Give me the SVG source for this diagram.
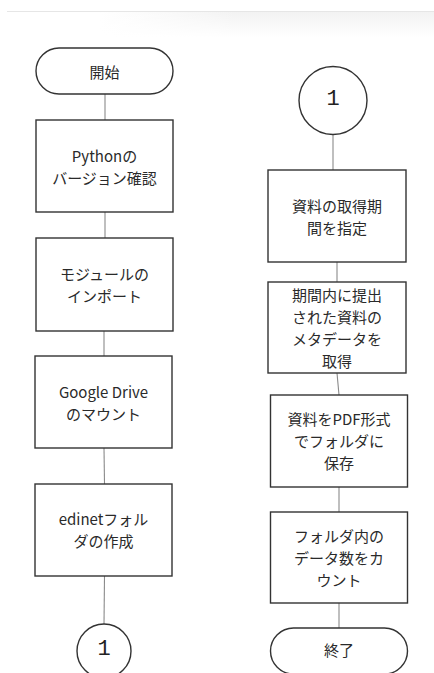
<svg xmlns="http://www.w3.org/2000/svg" width="434" height="673" viewBox="0 0 434 673">
<style>
.box{fill:#fff;stroke:#333;stroke-width:1.4}
.conn{stroke:#8a8a8a;stroke-width:1.1;fill:none}
.t{font-family:"Noto Sans CJK JP","Noto Sans",sans-serif;font-size:15px;fill:#2a2a2a;text-anchor:middle;dominant-baseline:central}
.n{font-family:"Liberation Mono","DejaVu Sans Mono",monospace;font-size:22px;fill:#222;text-anchor:middle;dominant-baseline:central}
</style>
<defs>
<linearGradient id="sh" x1="0" y1="0" x2="1" y2="0">
<stop offset="0" stop-color="#f4f4f4" stop-opacity="0"/>
<stop offset="0.4" stop-color="#f2f2f2" stop-opacity="1"/>
<stop offset="1" stop-color="#f2f2f2" stop-opacity="1"/>
</linearGradient>
<linearGradient id="shv" x1="0" y1="0" x2="0" y2="1">
<stop offset="0" stop-color="#fff" stop-opacity="0"/>
<stop offset="1" stop-color="#fff" stop-opacity="1"/>
</linearGradient>
</defs>
<rect width="434" height="673" fill="#fff"/>
<rect x="100" y="11" width="334" height="26" fill="url(#sh)"/>
<rect x="100" y="11" width="334" height="26" fill="url(#shv)"/>
<line x1="7" y1="11.5" x2="434" y2="11.5" stroke="#e6e6e6" stroke-width="1"/>
<g id="connectors">
<line class="conn" x1="105" y1="94" x2="105" y2="120"/>
<line class="conn" x1="105" y1="212" x2="105" y2="238"/>
<line class="conn" x1="104" y1="331" x2="104" y2="356"/>
<line class="conn" x1="104" y1="448" x2="104.5" y2="484"/>
<line class="conn" x1="104.5" y1="576" x2="104" y2="624"/>
<line class="conn" x1="333" y1="134" x2="333" y2="170"/>
<line class="conn" x1="337" y1="262" x2="337" y2="282"/>
<line class="conn" x1="337" y1="373" x2="339" y2="395"/>
<line class="conn" x1="339" y1="487" x2="339" y2="512"/>
<line class="conn" x1="339" y1="603" x2="339" y2="628"/>
</g>
<g id="start">
<rect class="box" x="36" y="48" width="137" height="46" rx="23"/>
<text class="t" x="104.5" y="71">開始</text>
</g>
<g id="python-version">
<rect class="box" x="36" y="120" width="137" height="92"/>
<text class="t"><tspan x="104.5" y="155">Pythonの</tspan><tspan x="104.5" y="177">バージョン確認</tspan></text>
</g>
<g id="module-import">
<rect class="box" x="36" y="238" width="137" height="93"/>
<text class="t"><tspan x="104.5" y="273">モジュールの</tspan><tspan x="104.5" y="295">インポート</tspan></text>
</g>
<g id="drive-mount">
<rect class="box" x="35" y="356" width="137" height="92"/>
<text class="t"><tspan x="103.5" y="391">Google Drive</tspan><tspan x="103.5" y="413">のマウント</tspan></text>
</g>
<g id="edinet-folder">
<rect class="box" x="35" y="484" width="137" height="92"/>
<text class="t"><tspan x="103.5" y="518">edinetフォル</tspan><tspan x="103.5" y="540">ダの作成</tspan></text>
</g>
<g id="connector-1-left">
<circle class="box" cx="104" cy="651" r="27"/>
<text class="n" x="104" y="649">1</text>
</g>
<g id="connector-1-right">
<circle class="box" cx="333" cy="100.5" r="34"/>
<text class="n" x="333" y="99">1</text>
</g>
<g id="period">
<rect class="box" x="268" y="170" width="138" height="92"/>
<text class="t"><tspan x="337" y="205">資料の取得期</tspan><tspan x="337" y="227">間を指定</tspan></text>
</g>
<g id="metadata">
<rect class="box" x="268" y="282" width="138" height="91"/>
<text class="t"><tspan x="337" y="294">期間内に提出</tspan><tspan x="337" y="316">された資料の</tspan><tspan x="337" y="338">メタデータを</tspan><tspan x="337" y="360">取得</tspan></text>
</g>
<g id="save-pdf">
<rect class="box" x="270.5" y="395" width="137" height="92"/>
<text class="t"><tspan x="339" y="418">資料をPDF形式</tspan><tspan x="339" y="440">でフォルダに</tspan><tspan x="339" y="462">保存</tspan></text>
</g>
<g id="count">
<rect class="box" x="270.5" y="512" width="137" height="91"/>
<text class="t"><tspan x="339" y="535">フォルダ内の</tspan><tspan x="339" y="557">データ数をカ</tspan><tspan x="339" y="579">ウント</tspan></text>
</g>
<g id="end">
<rect class="box" x="270.5" y="628" width="137" height="46" rx="23"/>
<text class="t" x="339" y="649">終了</text>
</g>
</svg>
